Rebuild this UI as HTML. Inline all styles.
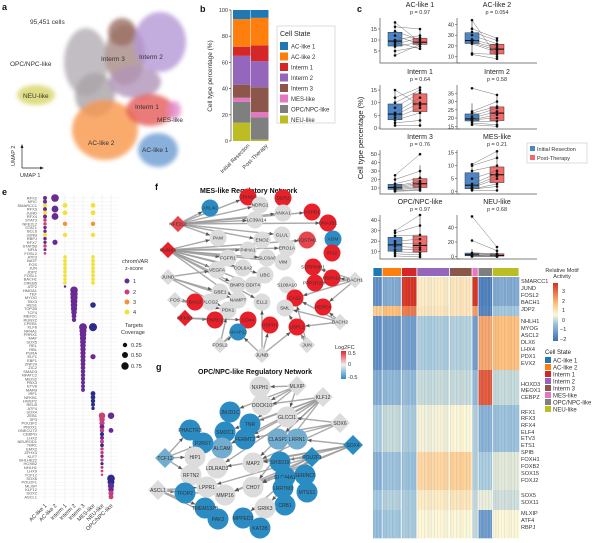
<!DOCTYPE html>
<html><head><meta charset="utf-8"><title>Cell state figure</title>
<style>
html,body{margin:0;padding:0;background:#fff;}
svg{display:block;font-family:"Liberation Sans",Arial,sans-serif;}
.pl{font-weight:bold;font-size:9px;fill:#111;}
.t6{font-size:6.5px;fill:#333;}
.t5{font-size:5.5px;fill:#333;}
.ax{stroke:#333;stroke-width:0.6;fill:none;}
</style></head>
<body>
<svg id="fig" width="600" height="543" viewBox="0 0 600 543" xmlns="http://www.w3.org/2000/svg">
<defs>
<filter id="blur3" x="-30%" y="-30%" width="160%" height="160%"><feGaussianBlur stdDeviation="2"/></filter>
<linearGradient id="gradMotif" x1="0" y1="1" x2="0" y2="0">
<stop offset="0" stop-color="#3b6fb6"/><stop offset="0.3" stop-color="#9ec6df"/><stop offset="0.45" stop-color="#fcf7d8"/><stop offset="0.65" stop-color="#fdbf7a"/><stop offset="1" stop-color="#d7301f"/>
</linearGradient>
<linearGradient id="gradFC" x1="0" y1="1" x2="0" y2="0">
<stop offset="0" stop-color="#2b8cc4"/><stop offset="0.5" stop-color="#f0f0f0"/><stop offset="1" stop-color="#e8202a"/>
</linearGradient>
</defs>

<text class="pl" x="2" y="10">a</text>
<text class="pl" x="200" y="12">b</text>
<text class="pl" x="357" y="12">c</text>
<text class="pl" x="2" y="195">e</text>
<text class="pl" x="155" y="190">f</text>
<text class="pl" x="156" y="370">g</text>
<text class="pl" x="392" y="275">d</text>

<g id="umap">
<g filter="url(#blur3)" fill-opacity="0.8">
<ellipse cx="86" cy="62" rx="22" ry="34" fill="#b3adb3"/>
<ellipse cx="95" cy="95" rx="20" ry="22" fill="#a9a3a6"/>
<ellipse cx="125" cy="55" rx="20" ry="30" fill="#a88a84"/>
<ellipse cx="122" cy="32" rx="14" ry="14" fill="#9a6e62"/>
<ellipse cx="160" cy="42" rx="26" ry="30" fill="#b497d6"/>
<ellipse cx="135" cy="82" rx="26" ry="16" fill="#b094b8"/>
<ellipse cx="36" cy="95" rx="19" ry="10" fill="#d6d565"/>
<ellipse cx="105" cy="130" rx="33" ry="30" fill="#f7964a"/>
<ellipse cx="150" cy="110" rx="24" ry="16" fill="#e55a55"/>
<ellipse cx="174" cy="110" rx="7" ry="9" fill="#e58acb"/>
<ellipse cx="158" cy="150" rx="20" ry="17" fill="#6a9bd2"/>
</g>
<text class="t6" x="30" y="24">95,451 cells</text>
<text class="t6" x="101" y="61">Interm 3</text>
<text class="t6" x="139" y="59">Interm 2</text>
<text class="t6" x="10" y="66">OPC/NPC-like</text>
<text class="t6" x="23" y="98">NEU-like</text>
<text class="t6" x="135" y="109">Interm 1</text>
<text class="t6" x="157" y="122">MES-like</text>
<text class="t6" x="88" y="145">AC-like 2</text>
<text class="t6" x="142" y="152">AC-like 1</text>
<g>
<line x1="22" y1="168" x2="22" y2="146" stroke="#222" stroke-width="0.7"/>
<polygon points="22,144 20.5,148 23.5,148" fill="#222"/>
<line x1="22" y1="168" x2="42" y2="168" stroke="#222" stroke-width="0.7"/>
<polygon points="44,168 40,166.5 40,169.5" fill="#222"/>
<text class="t5" x="15" y="166" transform="rotate(-90 15 166)">UMAP 2</text>
<text class="t5" x="20" y="177">UMAP 1</text>
</g>
</g>

<g id="pb">
<text class="t6" x="212" y="76" text-anchor="middle" transform="rotate(-90 212 76)">Cell type percentage (%)</text>
<g id="pbAxis"></g><g id="pbBars"></g>
<text class="t5" x="250" y="146" text-anchor="end" transform="rotate(-45 250 146)">Initial Resection</text>
<text class="t5" x="268" y="146" text-anchor="end" transform="rotate(-45 268 146)">Post-Therapy</text>
<g id="pbLegend">
<rect x="277" y="26" width="58" height="97" fill="#fff" stroke="#bbb" stroke-width="0.5"/>
<text x="280" y="36" style="font-size:7px;fill:#222">Cell State</text>
</g>
</g>

<g id="pc">
<text x="363" y="138" text-anchor="middle" transform="rotate(-90 363 138)" style="font-size:7.5px;fill:#222">Cell type percentage (%)</text>
<g>
<rect x="527" y="143" width="60" height="20" fill="#fff" stroke="#bbb" stroke-width="0.5"/>
<rect x="530" y="146" width="5" height="5" fill="#4a86c8"/>
<text class="t5" x="537" y="151">Initial Resection</text>
<rect x="530" y="155" width="5" height="5" fill="#f26b6b"/>
<text class="t5" x="537" y="160">Post-Therapy</text>
</g>
</g>

<g id="pd"></g>
<g>
<text class="t5" x="562" y="272" text-anchor="middle">Relative Motif</text>
<text class="t5" x="562" y="278" text-anchor="middle">Activity</text>
<rect x="553" y="283" width="5" height="58" fill="url(#gradMotif)"/>
<text class="t5" x="562" y="293">3</text><text class="t5" x="562" y="303">2</text><text class="t5" x="562" y="312">1</text>
<text class="t5" x="562" y="322">0</text><text class="t5" x="560" y="331">−1</text><text class="t5" x="560" y="341">−2</text>
<text x="545" y="354" style="font-size:6px;fill:#222">Cell State</text>
<g id="pdLegend"></g>
</g>

<g id="pe"></g>
<g>
<text class="t5" x="122" y="263">chromVAR</text>
<text class="t5" x="125" y="270">z-score</text>
<circle cx="127" cy="281" r="2.5" fill="#6a2a94"/><text class="t5" x="133" y="283">1</text>
<circle cx="127" cy="292" r="2.5" fill="#c8407a"/><text class="t5" x="133" y="294">2</text>
<circle cx="127" cy="302" r="2.5" fill="#f7923a"/><text class="t5" x="133" y="304">3</text>
<circle cx="127" cy="312" r="2.5" fill="#f0e23c"/><text class="t5" x="133" y="314">4</text>
<text class="t5" x="125" y="327">Targets</text>
<text class="t5" x="121" y="334">Coverage</text>
<circle cx="125" cy="345" r="2.2" fill="#111"/><text class="t5" x="131" y="347">0.25</text>
<circle cx="125" cy="355" r="3" fill="#111"/><text class="t5" x="131" y="357">0.50</text>
<circle cx="125" cy="366" r="3.7" fill="#111"/><text class="t5" x="131" y="368">0.75</text>
</g>

<text x="200" y="193" style="font-size:7px;font-weight:bold;fill:#111">MES-like Regulatory Network</text>
<text x="198" y="374" style="font-size:7px;font-weight:bold;fill:#111">OPC/NPC-like Regulatory Network</text>
<g id="pf"></g>
<g id="pg"></g>
<g>
<text class="t5" x="335" y="349">Log2FC</text>
<rect x="341" y="351" width="5" height="28" fill="url(#gradFC)"/>
<text class="t5" x="348" y="355">0.5</text><text class="t5" x="348" y="366">0</text><text class="t5" x="348" y="379">-0.5</text>
</g>
</svg>

<script>
const stateNames = ["AC-like 1","AC-like 2","Interm 1","Interm 2","Interm 3","MES-like","OPC/NPC-like","NEU-like"];
const stateColors = ["#1f77b4","#ff7f0e","#d62728","#9467bd","#8c564b","#e377c2","#7f7f7f","#bcbd22"];

// panel b
const bSamples = ["Initial Resection","Post-Therapy"];
const bInitial = [7,21,7,22,10,3,16,14];
const bPost    = [6,21,12,20,19,4,17,1];

// panel c
const cTitles = ["AC-like 1","AC-like 2","Interm 1","Interm 2","Interm 3","MES-like","OPC/NPC-like","NEU-like"];
const cPvals = ["p = 0.97","p = 0.054","p = 0.64","p = 0.58","p = 0.76","p = 0.21","p = 0.97","p = 0.68"];
const cRanges = [[0,20],[5,46],[0,17],[14,40],[4,55],[-0.5,16],[4,45],[-2,57]];
const cTicks = [[5,10,15],[10,20,30,40],[0,5,10,15],[15,20,25,30,35],[10,20,30,40,50],[0,5,10,15],[10,20,30,40],[0,20,40]];
const cInitial = [[3,5,7,8,9,10,12,14,16,18],[12,13,22,23,24,26,30,33,36,44],[1,2,3,4,5,6,8,10,12,15],[16,17,18,19,19,20,21,23,24,38],[6,7,8,9,10,11,12,15,20,25],[0.5,1,1,1.5,2,3,5,8,10,10.5],[6,8,10,12,15,18,20,25,28,30],[0,0.5,1,1,2,3,4,5,22,55]];
const cPost    = [[8,7,9,11,6,12,8,10,15,9],[8,12,14,16,18,20,22,25,27,10],[1,3,6,8,10,12,14,15,16,9],[15,16,18,20,22,24,26,27,30,34],[7,8,10,12,14,16,18,22,30,50],[0.5,2,3,5,6,7,8,10,13,15.5],[5,7,9,12,14,18,22,26,35,45],[0,0,0.5,1,1,2,3,4,8,13]];

// panel d
const dRowLabels = ["SMARCC1","JUND","FOSL2","BACH1","JDP2","NHLH1","MYOG","ASCL2","DLX6","LHX4","PDX1","EVX2","HOXD3","MEOX1","CEBPZ","RFX1","RFX3","RFX4","ELF4","ETV3","ETS1","SPIB","FOXH1","FOXB2","SOX15","FOXJ2","SOX5","SOX11","MLXIP","ATF4","RBPJ"];
const dRowLabelY = [283,290,297,304,311,323,330,337,344,351,358,365,386,392,399,414,420,427,434,440,447,454,461,468,475,482,497,504,515,522,529];
const dGroupShare = [9,19,15,32,22,6,14,26];
const dBlockRows = [29,10,54,35,47,38,20,28];
const dBlockValues = [
 [-2.0,-1.5, 3.0, 0.2, 0.3, 3.0,-2.3,-1.5],
 [ 0.8, 1.0, 2.0, 0.3, 0.3, 1.5,-2.2,-1.0],
 [-2.0,-1.8,-1.7,-0.9,-0.8,-1.7, 1.4, 1.0],
 [-1.5,-1.3,-1.2,-0.6,-0.6,-1.2, 2.5,-0.6],
 [-0.9,-0.6,-0.9,-0.1, 0.0,-0.8,-1.4,-1.1],
 [-1.4,-1.1,-1.1, 0.6, 0.7,-0.8,-0.9,-0.3],
 [-1.0,-0.8,-0.9, 0.2, 0.3,-0.6,-0.2,-0.5],
 [-1.2,-1.0,-0.9, 0.0, 0.0,-0.6,-1.8, 0.0]];

// panel e: each dot = [row, column, z-level(0-4), coverage]
const eColumns = ["AC-like 1","AC-like 2","Interm 1","Interm 2","Interm 3","MES-like","NEU-like","OPC/NPC-like"];
const eRows = ["RFX2","NFIC","SMARCC1","RFX3","JUND","RFX4","STAT3","NFE2L2","STAT1","BCL6","JUNB","RBPJ","RFX7","STAT5B","NFIA","FOSL2","ATF3","BATF","FOS","JUN","JDP2","FOSL1","BACH1","CREB5","ATF2","HMGA1","TEF","MYOG","TBX3","HES1","TOP2B","TCF4","MEF2C","RUNX2","CPEB1","KLF6","NR4A1","PRRX1","MAF","SOX5","REL","RBL","PURA","ELF1","EBF1","ZNF24","ZIC2","SMAD3","NFATC2","MEIS2","PBX3","ETV6","MAFB","IRF1","NFKB1","HIVEP2","RELB","ATF4","SOX4","ZEB1","SP3","POU3F2","PROX1","ONECUT2","CEBPG","LHX2","NEUROD1","TBR1","EMX2","ZFHX3","KLF7","BHLHE22","HOXB2","NHLH1","LHX9","TCF12","SOX6","POU2F1","MLXIP","KLF12","SOX2","ASCL1"];
const eDots = [
 [0,0,1,0.2],[0,1,1,0.75],
 [1,0,1,0.2],
 [2,0,4,0.2],[2,2,4,0.3],[2,5,4,0.3],
 [3,0,1,0.2],[3,1,1,0.6],
 [4,0,4,0.2],[4,2,4,0.3],[4,5,4,0.3],
 [5,0,1,0.2],[5,1,1,0.6],
 [6,0,2,0.15],
 [7,0,2,0.15],[7,2,3,0.25],[7,5,3,0.25],
 [8,0,1,0.15],[9,0,1,0.15],
 [10,0,4,0.2],[10,2,4,0.25],[10,5,4,0.25],
 [11,0,1,0.15],
 [12,0,1,0.15],[12,1,1,0.35],
 [13,0,2,0.15],[14,0,1,0.12],[15,0,2,0.1],
 [16,2,4,0.18],[16,5,4,0.18],[17,2,4,0.18],[17,5,4,0.18],[18,2,4,0.18],[18,5,4,0.18],[19,2,4,0.18],[19,5,4,0.18],
 [20,2,4,0.18],[20,5,4,0.18],[21,2,4,0.18],[21,5,4,0.18],[22,2,4,0.18],[22,5,4,0.18],[23,2,4,0.18],[23,5,4,0.18],
 [24,2,0,0.08],
 [25,3,1,0.75],[26,3,1,0.7],[27,3,1,0.65],[28,3,1,0.6],[29,3,1,0.55],[29,5,0,0.4],[30,3,1,0.5],[31,3,1,0.4],[32,3,1,0.3],[33,3,1,0.25],
 [35,4,1,0.8],[35,5,0,0.85],[36,4,1,0.65],[37,4,1,0.55],[38,4,1,0.5],[39,4,1,0.45],[40,4,1,0.4],[41,4,1,0.38],[42,4,1,0.36],[43,4,1,0.34],[43,5,1,0.35],
 [44,4,1,0.32],[45,4,1,0.3],[46,4,1,0.28],[47,4,1,0.26],[48,4,1,0.25],[49,4,1,0.24],[50,4,1,0.22],[51,4,1,0.2],[52,4,1,0.2],
 [53,5,0,0.3],[54,5,0,0.28],[55,5,0,0.25],[56,5,0,0.2],[57,5,0,0.15],
 [59,6,2,0.55],[59,7,1,0.55],[60,6,2,0.4],[61,6,2,0.35],[62,6,1,0.3],[63,6,2,0.25],[63,7,1,0.3],[64,6,0,0.22],[65,6,1,0.2],[66,6,2,0.2],[67,6,0,0.18],[68,6,2,0.15],
 [69,6,2,0.15],[70,6,1,0.14],[71,6,2,0.14],[72,6,0,0.13],[73,6,2,0.12],[74,6,2,0.1],[75,6,2,0.08],
 [76,7,0,0.75],[77,7,0,0.6],[78,7,1,0.5],[79,7,1,0.4],[80,7,2,0.35],[81,7,2,0.3]];

// networks
const fNodeNames = ["GRIN2A","DDR2","NDRG1","ARL4C","HSPB1","ANXA1","SLC39A14","DNAJB1","PAM","ENO2","GLUL","SQSTM1","ADM","P4HA1","ERO1A","IRS2","FGFR1","SLC6A6","VIM","VEGFA","COL6A2","SERPINH1","UBC","HSPA1A","BACH1","PPP1R15A","BNIP3","DDIT4","S100A10","GBE1","NAMPT","ELL2","CA12","HERC4","SML","PLCG2","PDK1","PNRC1","CD44","HSPH1","USPL1","BACH2","AKAP12","FOSL2","JUNB","JUN","NFE2L2","RUNX1","JUND","FOS","BAG3","NFKB1"];
const fNodeX = [248,283,260,210,312,283,255,328,218,262,282,307,333,248,287,332,228,267,283,217,243,313,265,332,355,315,237,253,287,220,238,262,295,323,285,210,228,215,248,270,297,340,238,220,262,307,178,168,168,175,195,185];
const fNodeY = [197,198,205,208,212,213,220,223,238,240,235,240,239,250,248,253,258,258,262,270,268,267,275,278,280,283,285,285,285,292,300,302,298,307,308,302,310,320,320,325,327,322,332,345,355,345,224,250,277,300,302,318];
const fNodeShape = ["c","c","c","c","c","c","c","c","c","c","c","c","c","c","c","c","c","c","c","c","c","c","c","c","d","c","c","c","c","c","c","c","c","c","c","c","c","c","c","c","c","d","c","d","d","d","d","d","d","d","c","d"];
const fNodeFC = [0.5,0.5,0,-0.5,0.5,0,0,0.5,0,0,0,0.4,-0.5,0,0,0.5,0,0,0,0,0,0.5,0,0.5,0,0.5,0,0,0,0,0,0,0.5,0.5,0,0,0,0.5,0.5,0.5,0.5,0,-0.5,0,0,0,0.4,0.5,0,0,0.5,0.5];
const fEdgeFrom = ["NFE2L2","NFE2L2","NFE2L2","NFE2L2","NFE2L2","NFE2L2","NFE2L2","NFE2L2","NFE2L2","NFE2L2","RUNX1","RUNX1","RUNX1","RUNX1","RUNX1","RUNX1","RUNX1","RUNX1","RUNX1","RUNX1","RUNX1","RUNX1","RUNX1","RUNX1","JUND","JUND","JUND","JUND","FOS","FOS","FOS","NFKB1","NFKB1","FOSL2","FOSL2","FOSL2","JUNB","JUNB","JUNB","JUNB","JUN","JUN","JUN","BACH1","BACH1","BACH1","BACH1","BACH1","BACH2","BACH2","BACH2","BACH2"];
const fEdgeTo   = ["GRIN2A","NDRG1","ARL4C","SLC39A14","HSPB1","ANXA1","PAM","ENO2","GLUL","DNAJB1","PAM","P4HA1","FGFR1","VEGFA","COL6A2","UBC","BNIP3","DDIT4","NAMPT","ELL2","SLC6A6","VIM","ERO1A","SQSTM1","VEGFA","GBE1","NAMPT","PDK1","BAG3","PLCG2","PDK1","PNRC1","CD44","AKAP12","PDK1","CD44","AKAP12","HSPH1","USPL1","ELL2","USPL1","CA12","SML","HSPA1A","PPP1R15A","SERPINH1","HERC4","CA12","HERC4","USPL1","SML","CA12"];

const gNodeNames = ["NXPH1","MLXIP","KLF12","DOCK10","JMJD1C","GLCCI1","TNR","SOX6","SMOC1","FERMT2","CLASP2","LRRN1","SOX4","ALCAM","POU2F1","MAP2","SH3D19","LDLRAD3","SERINC5","SLC44A1","CHD7","LRRTM3","MTSS1","LPPR1","MMP16","CRB1","GRIK3","TMEM132B","PAK3","MPPED2","KAT2B","PHACTR3","P2RX7","TCF12","HIP1","RFTN2","ASCL1","TFDP2"];
const gNodeX = [260,297,323,262,230,287,250,340,225,245,278,297,353,222,312,253,280,217,305,285,253,283,307,207,225,285,265,205,218,243,260,190,203,165,195,191,158,185];
const gNodeY = [387,386,397,405,412,417,424,423,432,439,439,439,445,448,457,463,462,468,475,477,487,488,492,487,495,505,508,508,519,518,528,430,443,458,457,475,490,493];
const gNodeShape = ["c","d","d","c","c","c","c","d","c","c","c","c","d","c","d","c","c","c","c","c","c","c","c","c","c","c","c","c","c","c","c","c","c","d","c","c","d","c"];
const gNodeFC = [0,0,0,0,-0.5,0,-0.5,0,-0.5,-0.5,-0.3,-0.3,-0.5,-0.3,-0.5,0,-0.5,0,-0.5,-0.5,0,-0.5,-0.5,0,0,-0.5,0,-0.5,-0.5,-0.5,-0.5,-0.5,-0.5,-0.3,0,0,0,-0.5];
const gEdgeFrom = ["MLXIP","MLXIP","MLXIP","MLXIP","MLXIP","KLF12","KLF12","KLF12","KLF12","KLF12","KLF12","KLF12","KLF12","KLF12","SOX6","SOX6","SOX6","SOX6","SOX4","SOX4","SOX4","SOX4","SOX4","SOX4","POU2F1","POU2F1","POU2F1","POU2F1","POU2F1","POU2F1","TCF12","TCF12","TCF12","TCF12","ASCL1","ASCL1","ASCL1","ASCL1","ASCL1"];
const gEdgeTo   = ["NXPH1","DOCK10","JMJD1C","GLCCI1","TNR","DOCK10","TNR","SMOC1","FERMT2","MAP2","CLASP2","LDLRAD3","CHD7","ALCAM","GLCCI1","CLASP2","MAP2","FERMT2","LRRN1","MAP2","SH3D19","CHD7","MMP16","LDLRAD3","MAP2","CHD7","MMP16","LPPR1","GRIK3","MPPED2","PHACTR3","HIP1","RFTN2","P2RX7","TFDP2","LPPR1","MMP16","TMEM132B","PAK3"];

const NS="http://www.w3.org/2000/svg";
function mk(tag, attrs, parent){const e=document.createElementNS(NS,tag);for(const k in attrs)e.setAttribute(k,attrs[k]);parent.appendChild(e);return e;}
function txt(str, attrs, parent){const e=mk("text",attrs,parent);e.textContent=str;return e;}
function lerpColor(stops,v){for(let i=0;i<stops.length-1;i++){const a=stops[i],b=stops[i+1];if(v<=b[0]||i===stops.length-2){let t=(v-a[0])/(b[0]-a[0]);t=Math.max(0,Math.min(1,t));const c=a[1].map((x,j)=>Math.round(x+(b[1][j]-x)*t));return "rgb("+c.join(",")+")";}}}
const motifStops=[[-2.5,[59,111,182]],[-1,[158,198,223]],[0,[252,247,216]],[1,[253,191,122]],[3,[215,48,31]]];
const fcStops=[[-0.5,[43,140,196]],[0,[220,220,220]],[0.5,[232,32,42]]];
function quant(arr,q){const s=[...arr].sort((a,b)=>a-b);const p=(s.length-1)*q;const lo=Math.floor(p),hi=Math.ceil(p);return s[lo]+(s[hi]-s[lo])*(p-lo);}

// panel b
(function(){
 const ax=document.getElementById("pbAxis"), bars=document.getElementById("pbBars");
 const y=v=>141-v*1.31;
 const bx=[233,251], bw=17.5;
 const ticks=[0,20,40,60,80,100];
 mk("line",{x1:231,y1:y(0),x2:231,y2:y(100),class:"ax"},ax);
 ticks.forEach(t=>{
  const l=mk("line",{x1:229,y1:y(t),x2:231,y2:y(t),class:"ax"},ax);
  
  
  const tt=txt(String(t),{x:228,y:y(t)+2,"text-anchor":"end",class:"t5"},ax);
  
  
 });
 const order=[7,6,5,4,3,2,1,0];
 [bInitial,bPost].forEach((vals,si)=>{
  let cum=0;
  order.forEach(k=>{
   const r=mk("rect",{x:bx[si],y:y(cum+vals[k]),width:bw,height:vals[k]*1.31,fill:stateColors[k]},bars);
   
   
   cum+=vals[k];
  });
 });
 const lg=document.getElementById("pbLegend");
 stateNames.forEach((n,i)=>{
  const yy=42+i*10.5;
  const r=mk("rect",{x:280,y:yy,width:8,height:8,fill:stateColors[i]},lg);
  
  
  const t=txt(n,{x:291,y:yy+6.5,class:"t5",style:"font-size:6px"},lg);
  
  
 });
})();

// panel c
(function(){
 const pc=document.getElementById("pc");
 const colX=[380,457], rowY=[[18,62],[85,128],[150,193],[215,258]];
 cTitles.forEach((title,i)=>{
  const ax0=colX[i%2], top=rowY[Math.floor(i/2)][0], bot=rowY[Math.floor(i/2)][1];
  const g=mk("g",{},pc);
  
  
  const [lo,hi]=cRanges[i];
  const y=v=>bot-(v-lo)/(hi-lo)*(bot-top);
  const t1=txt(title,{x:ax0+40,y:top-11,"text-anchor":"middle",style:"font-size:7px;fill:#222"},g);
  
  
  const t2=txt(cPvals[i],{x:ax0+40,y:top-4,"text-anchor":"middle",class:"t5"},g);
  
  
  mk("polyline",{points:`${ax0},${top} ${ax0},${bot+1} ${ax0+80},${bot+1}`,fill:"none",stroke:"#555","stroke-width":0.7},g);
  cTicks[i].forEach(t=>{
   mk("line",{x1:ax0-2,y1:y(t),x2:ax0,y2:y(t),stroke:"#555","stroke-width":0.6},g);
   const tl=txt(String(t),{x:ax0-3,y:y(t)+2,"text-anchor":"end",class:"t5"},g);
   
   
  });
  const groups=[[cInitial[i],8,"#4a86c8"],[cPost[i],33,"#f26b6b"]];
  groups.forEach(([d,off,col],gi)=>{
   const q1=quant(d,0.25),q2=quant(d,0.5),q3=quant(d,0.75);
   const iqr=q3-q1, wlo=Math.max(Math.min(...d),q1-1.5*iqr), whi=Math.min(Math.max(...d),q3+1.5*iqr);
   const cx=ax0+off+7;
   mk("line",{x1:cx,y1:y(whi),x2:cx,y2:y(wlo),stroke:"#333","stroke-width":0.6},g);
   const b=mk("rect",{x:ax0+off,y:y(q3),width:14,height:Math.max(0.5,y(q1)-y(q3)),fill:col,stroke:"#333","stroke-width":0.5},g);
   
   
   mk("line",{x1:ax0+off,y1:y(q2),x2:ax0+off+14,y2:y(q2),stroke:"#111","stroke-width":1.1},g);
  });
  cInitial[i].forEach((v,k)=>{
   const w=cPost[i][k];
   const l=mk("line",{x1:ax0+15,y1:y(v),x2:ax0+40,y2:y(w),stroke:"#666","stroke-width":0.45},g);
   
   
   const p1=mk("circle",{cx:ax0+15,cy:y(v),r:1.3,fill:"#111"},g);
   
   
   const p2=mk("circle",{cx:ax0+40,cy:y(w),r:1.3,fill:"#111"},g);
   
   
  });
 });
})();

// panel d
(function(){
 const pd=document.getElementById("pd");
 const x0=373,x1=519,yTop=277,yBot=538;
 const totalC=dGroupShare.reduce((a,b)=>a+b,0), totalR=dBlockRows.reduce((a,b)=>a+b,0);
 let cx=x0;
 const colEdges=[];
 dGroupShare.forEach(s=>{const w=s/totalC*(x1-x0);colEdges.push([cx,cx+w]);cx+=w;});
 colEdges.forEach(([a,b],gi)=>{
  const r=mk("rect",{x:a+0.4,y:268,width:b-a-0.8,height:8,fill:stateColors[gi]},pd);
  
  
 });
 let ry=yTop;
 dBlockRows.forEach((h,bi)=>{
  const hh=h/totalR*(yBot-yTop);
  colEdges.forEach(([a,b],gi)=>{
   const r=mk("rect",{x:a,y:ry,width:b-a+0.3,height:hh+0.3,fill:lerpColor(motifStops,dBlockValues[bi][gi])},pd);
   
   
  });
  ry+=hh;
 });
 // texture stripes (visual only)
 let k=0;
 for(let sx=x0+0.6;sx<x1;sx+=1.6,k++){
  const c=(k%5===0||k%7===0)?"#f39a5a":(k%2===0?"#4f7fc0":"#ffffff");
  mk("line",{x1:sx,y1:yTop,x2:sx,y2:yBot,stroke:c,"stroke-width":0.6,"stroke-opacity":0.22},pd);
 }
 colEdges.slice(1).forEach(([a])=>mk("line",{x1:a,y1:yTop,x2:a,y2:yBot,stroke:"#fff","stroke-width":0.7},pd));
 dRowLabels.forEach((n,i)=>{
  const t=txt(n,{x:521,y:dRowLabelY[i],class:"t5",style:"font-size:5.6px"},pd);
  
  
 });
 const lg=document.getElementById("pdLegend");
 stateNames.forEach((n,i)=>{
  const yy=357+i*7;
  const r=mk("rect",{x:545,y:yy,width:6,height:6,fill:stateColors[i]},lg);
  
  
  const t=txt(n,{x:553,y:yy+5.5,class:"t5",style:"font-size:6px"},lg);
  
  
 });
})();

// panel e
(function(){
 const pe=document.getElementById("pe");
 const colX=[45,55,65,74,83,93,102,111];
 const rowY=i=>198+i*3.69;
 mk("rect",{x:38,y:194,width:80,height:308,fill:"#fff"},pe);
 colX.forEach(x=>mk("line",{x1:x,y1:194,x2:x,y2:502,stroke:"#e6e6e6","stroke-width":0.5},pe));
 eRows.forEach((n,i)=>{
  mk("line",{x1:38,y1:rowY(i),x2:118,y2:rowY(i),stroke:"#eeeeee","stroke-width":0.4},pe);
  const t=txt(n,{x:37,y:rowY(i)+1.5,"text-anchor":"end",style:"font-size:4px;fill:#555"},pe);
  
  
 });
 eColumns.forEach((n,i)=>{
  const t=txt(n,{x:colX[i]+2,y:506,"text-anchor":"end",transform:`rotate(-45 ${colX[i]+2} 506)`,class:"t5"},pe);
  
  
 });
 const zCol=["#2e2c8a","#6a2a94","#c8407a","#f7923a","#f0e23c"];
 eDots.forEach(([r,c,z,cov])=>{
  const d=mk("circle",{cx:colX[c],cy:rowY(r),r:Math.sqrt(cov)*4.4,fill:zCol[z]},pe);
  
  
 });
})();

// networks
function drawNet(gid,names,xs,ys,shapes,fcs,from,to,rad,fs){
 const g=document.getElementById(gid);
 const idx={};names.forEach((n,i)=>idx[n]=i);
 const eg=mk("g",{},g);
 from.forEach((f,k)=>{
  const a=idx[f],b=idx[to[k]];if(a===undefined||b===undefined)return;
  const dx=xs[b]-xs[a],dy=ys[b]-ys[a],L=Math.hypot(dx,dy)||1;
  const ex=xs[b]-dx/L*rad,ey=ys[b]-dy/L*rad;
  const l=mk("line",{x1:xs[a],y1:ys[a],x2:ex,y2:ey,stroke:"#9a9a9a","stroke-width":1.4,"stroke-opacity":0.85},eg);
  
  
  const ux=dx/L,uy=dy/L;
  mk("polygon",{points:`${ex},${ey} ${ex-ux*4-uy*1.8},${ey-uy*4+ux*1.8} ${ex-ux*4+uy*1.8},${ey-uy*4-ux*1.8}`,fill:"#555"},eg);
 });
 names.forEach((n,i)=>{
  const col=lerpColor(fcStops,fcs[i]);
  let s;
  if(shapes[i]==="d"){
   const r=rad*0.95;
   s=mk("polygon",{points:`${xs[i]},${ys[i]-r} ${xs[i]+r},${ys[i]} ${xs[i]},${ys[i]+r} ${xs[i]-r},${ys[i]}`,fill:col},g);
  } else {
   s=mk("circle",{cx:xs[i],cy:ys[i],r:rad,fill:col},g);
  }
  
  
  const t=txt(n,{x:xs[i],y:ys[i]+fs*0.35,"text-anchor":"middle",style:`font-size:${fs}px;fill:#333`},g);
  
  
 });
}
drawNet("pf",fNodeNames,fNodeX,fNodeY,fNodeShape,fNodeFC,fEdgeFrom,fEdgeTo,8.5,4.8);
drawNet("pg",gNodeNames,gNodeX,gNodeY,gNodeShape,gNodeFC,gEdgeFrom,gEdgeTo,10.5,5);
</script>
</body></html>
